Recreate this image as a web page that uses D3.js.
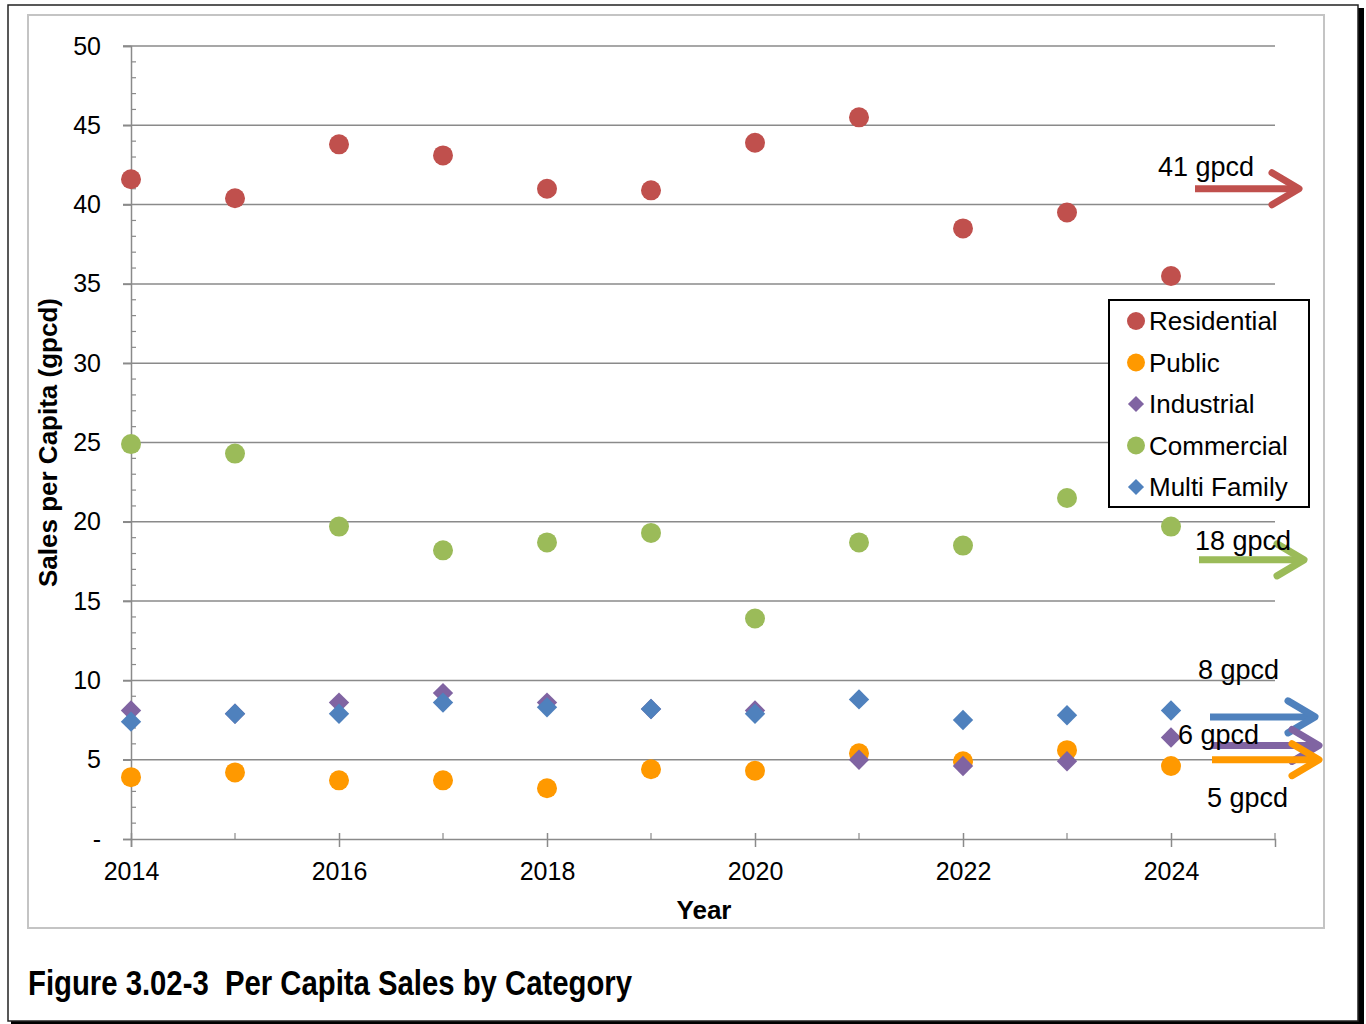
<!DOCTYPE html>
<html>
<head>
<meta charset="utf-8">
<script src="https://d3js.org/d3.v7.min.js"></script>
<style>
  body { margin: 0; background: #fff; }
  svg text { font-family: 'Liberation Sans', Arial, sans-serif; fill: #000; }
  .tick-label { font-size: 25px; }
  .axis-title { font-size: 26px; font-weight: bold; }
  .caption { font-size: 35px; font-weight: bold; white-space: pre; }
  .legend text { font-size: 26px; }
  .note { font-size: 27px; }
</style>
</head>
<body>
<script>
// data
var years = [2014, 2015, 2016, 2017, 2018, 2019, 2020, 2021, 2022, 2023, 2024];
var residential = [41.6, 40.4, 43.8, 43.1, 41.0, 40.9, 43.9, 45.5, 38.5, 39.5, 35.5];
var publicUse   = [3.9, 4.2, 3.7, 3.7, 3.2, 4.4, 4.3, 5.4, 4.9, 5.6, 4.6];
var industrial  = [8.1, 7.9, 8.6, 9.2, 8.6, 8.2, 8.1, 5.0, 4.6, 4.9, 6.4];
var commercial  = [24.9, 24.3, 19.7, 18.2, 18.7, 19.3, 13.9, 18.7, 18.5, 21.5, 19.7];
var multiFamily = [7.4, 7.9, 7.9, 8.6, 8.3, 8.2, 7.9, 8.8, 7.5, 7.8, 8.1];

var seriesNames = ["Residential", "Public", "Industrial", "Commercial", "Multi Family"];
var seriesShapes = ["circle", "circle", "diamond", "circle", "diamond"];
var seriesColors = ["#C0504D", "#FF9900", "#8064A2", "#9BBB59", "#4F81BD"];
var seriesValues = [residential, publicUse, industrial, commercial, multiFamily];

var yTicks = [0, 5, 10, 15, 20, 25, 30, 35, 40, 45, 50];
var xLabelYears = [2014, 2016, 2018, 2020, 2022, 2024];

// target arrows on the right side
var targetLabels = ["41 gpcd", "18 gpcd", "8 gpcd", "6 gpcd", "5 gpcd"];
var targetValues = [41, 17.6, 7.7, 5.9, 5.0];
var targetColors = ["#C0504D", "#9BBB59", "#4F81BD", "#8064A2", "#FF9900"];

var svg = d3.select("body").append("svg")
    .attr("width", 1366)
    .attr("height", 1024);

// outer frame with shadow
svg.append("rect").attr("x", 11).attr("y", 8).attr("width", 1353).attr("height", 1016).attr("fill", "#000");
svg.append("rect").attr("x", 8).attr("y", 5).attr("width", 1350).attr("height", 1016)
    .attr("fill", "#fff").attr("stroke", "#222").attr("stroke-width", 1.5);

// chart area border
svg.append("rect").attr("x", 28).attr("y", 15).attr("width", 1296).attr("height", 913)
    .attr("fill", "#fff").attr("stroke", "#c4c4c4").attr("stroke-width", 2);

var x = d3.scaleLinear().domain([2014, 2025]).range([131, 1275]);
var y = d3.scaleLinear().domain([0, 50]).range([839, 46]);

var gridColor = "#8a8a8a";

// horizontal gridlines
svg.append("g").selectAll("line")
    .data(yTicks.filter(function(d) { return d > 0; }))
    .enter().append("line")
    .attr("x1", x(2014) - 8).attr("x2", x(2025))
    .attr("y1", function(d) { return y(d); })
    .attr("y2", function(d) { return y(d); })
    .attr("stroke", gridColor).attr("stroke-width", 1.5);

// y axis
var yAxis = svg.append("g").attr("transform", "translate(" + x(2014) + ",0)")
    .call(d3.axisLeft(y).tickValues(yTicks).tickSize(8).tickPadding(22)
        .tickFormat(function(d) { return d === 0 ? "-" : d; }));
yAxis.select(".domain").attr("stroke", gridColor).attr("stroke-width", 1.5);
yAxis.selectAll(".tick line").attr("stroke", gridColor).attr("stroke-width", 1.5);
yAxis.selectAll(".tick text").attr("class", "tick-label").attr("font-size", null).attr("font-family", null);

// y minor ticks (inside)
svg.append("g").selectAll("line")
    .data(d3.range(1, 50).filter(function(d) { return d % 5 !== 0; }))
    .enter().append("line")
    .attr("x1", x(2014)).attr("x2", x(2014) + 5)
    .attr("y1", function(d) { return y(d); })
    .attr("y2", function(d) { return y(d); })
    .attr("stroke", gridColor).attr("stroke-width", 1.2);

// x axis, major ticks cross the line
var xAxis = svg.append("g").attr("transform", "translate(0," + y(0) + ")")
    .call(d3.axisBottom(x).tickValues(xLabelYears).tickSize(8).tickPadding(15)
        .tickFormat(function(d) { return String(d); }));
xAxis.select(".domain").attr("stroke", gridColor).attr("stroke-width", 1.5);
xAxis.selectAll(".tick line").attr("y1", -6).attr("stroke", gridColor).attr("stroke-width", 1.5);
xAxis.selectAll(".tick text").attr("class", "tick-label").attr("font-size", null).attr("font-family", null);

// x minor ticks on odd years and the axis end (inside)
svg.append("g").selectAll("line")
    .data(years.filter(function(d) { return d % 2 === 1; }).concat([2025]))
    .enter().append("line")
    .attr("x1", function(d) { return x(d); }).attr("x2", function(d) { return x(d); })
    .attr("y1", y(0)).attr("y2", y(0) - 6)
    .attr("stroke", gridColor).attr("stroke-width", 1.2);

// axis titles
svg.append("text").attr("class", "axis-title")
    .attr("transform", "translate(57," + y(25) + ") rotate(-90)")
    .attr("text-anchor", "middle")
    .text("Sales per Capita (gpcd)");
svg.append("text").attr("class", "axis-title")
    .attr("x", 704).attr("y", 919)
    .attr("text-anchor", "middle")
    .text("Year");

function drawMarker(sel, shape, color, r) {
    if (shape === "circle") {
        sel.append("circle").attr("r", r).attr("fill", color);
    } else {
        sel.append("path").attr("d", d3.symbol().type(d3.symbolSquare).size(r * r * 2.3)())
            .attr("transform", "rotate(45)").attr("fill", color);
    }
}

// data points
seriesValues.forEach(function(vals, i) {
    var g = svg.append("g");
    g.selectAll("g")
        .data(vals)
        .enter().append("g")
        .attr("transform", function(d, j) { return "translate(" + x(years[j]) + "," + y(d) + ")"; })
        .each(function() { drawMarker(d3.select(this), seriesShapes[i], seriesColors[i], seriesShapes[i] === "circle" ? 10 : 9.5); });
});

// legend
var legend = svg.append("g").attr("class", "legend");
legend.append("rect").attr("x", 1109).attr("y", 300).attr("width", 200).attr("height", 207)
    .attr("fill", "#fff").attr("stroke", "#000").attr("stroke-width", 2);
seriesNames.forEach(function(name, i) {
    var row = legend.append("g").attr("transform", "translate(1136," + (321 + i * 41.5) + ")");
    drawMarker(row, seriesShapes[i], seriesColors[i], seriesShapes[i] === "circle" ? 9 : 7.5);
    row.append("text").attr("x", 13).attr("y", 9).text(name);
});

// target arrows
var arrowX = [[1195, 1302], [1199, 1307], [1210, 1318], [1212, 1322], [1212, 1322]];
var labelPos = [[1158, 176], [1195, 550], [1198, 679], [1178, 744], [1207, 807]];
targetValues.forEach(function(v, i) {
    var yy = y(v);
    var x1 = arrowX[i][0], x2 = arrowX[i][1];
    var g = svg.append("g").attr("fill", "none").attr("stroke", targetColors[i])
        .attr("stroke-width", 7).attr("stroke-linecap", "round").attr("stroke-linejoin", "round");
    g.append("line").attr("x1", x1).attr("x2", x2 - 4).attr("y1", yy).attr("y2", yy).attr("stroke-linecap", "butt");
    g.append("path").attr("d", "M" + (x2 - 30) + "," + (yy - 16) + "L" + (x2 - 3) + "," + yy + "L" + (x2 - 30) + "," + (yy + 16));
    svg.append("text").attr("class", "note").attr("x", labelPos[i][0]).attr("y", labelPos[i][1]).text(targetLabels[i]);
});

// caption (condensed bold in the original)
svg.append("text").attr("class", "caption").attr("x", 28).attr("y", 995)
    .attr("textLength", 604).attr("lengthAdjust", "spacingAndGlyphs")
    .text("Figure 3.02-3  Per Capita Sales by Category");
</script>
</body>
</html>
